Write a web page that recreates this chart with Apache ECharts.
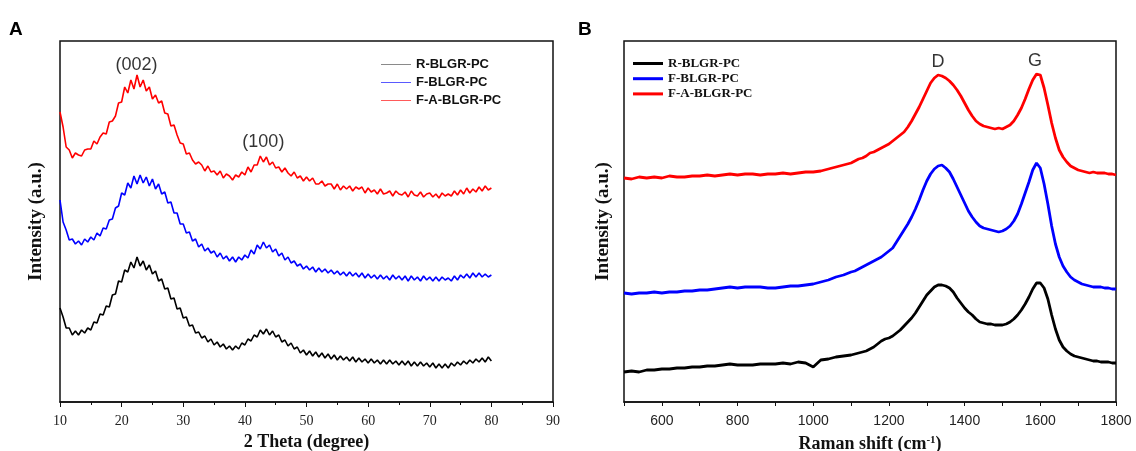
<!DOCTYPE html>
<html><head><meta charset="utf-8">
<script src="https://cdn.jsdelivr.net/npm/echarts@6/dist/echarts.min.js"></script>
<style>html,body{margin:0;padding:0;background:#fff}#c{width:1136px;height:451px}</style>
</head><body><div id="c"></div>
<script>
// ---------- Panel A: XRD ----------
const xrdTheta = [
 10,10.5,11,11.5,12,12.5,13,13.5,14,14.5,15,15.5,16,16.5,17,17.5,18,18.5,19,19.5,
 20,20.5,21,21.5,22,22.5,23,23.5,24,24.5,25,25.5,26,26.5,27,27.5,28,28.5,29,29.5,
 30,30.5,31,31.5,32,32.5,33,33.5,34,34.5,35,35.5,36,36.5,37,37.5,38,38.5,39,39.5,
 40,40.5,41,41.5,42,42.5,43,43.5,44,44.5,45,45.5,46,46.5,47,47.5,48,48.5,49,49.5,
 50,50.5,51,51.5,52,52.5,53,53.5,54,54.5,55,55.5,56,56.5,57,57.5,58,58.5,59,59.5,
 60,60.5,61,61.5,62,62.5,63,63.5,64,64.5,65,65.5,66,66.5,67,67.5,68,68.5,69,69.5,
 70,70.5,71,71.5,72,72.5,73,73.5,74,74.5,75,75.5,76,76.5,77,77.5,78,78.5,79,79.5,
 80];
const xrdR = [
 94,85,74,74,67,71,67,72,69,74,72,80,79,88,87,96,95,107,108,121,
 120,132,130,140,134,145,136,141,132,137,128,131,121,123,113,114,103,104,93,94,
 84,85,76,77,69,70,64,66,60,63,57,60,55,58,53,56,52,56,53,59,
 57,63,61,67,65,72,68,73,67,71,65,67,60,62,56,59,53,55,49,52,
 47,51,46,50,45,49,44,48,43,47,42,46,42,45,41,45,40,44,40,43,
 39,43,39,42,38,42,38,42,38,41,37,41,37,41,36,40,36,40,36,39,
 35,39,34,38,34,38,34,39,36,40,37,41,38,42,39,43,40,44,40,45,
 41];
const xrdF = [
 202,180,172,162,163,158,161,157,163,160,165,162,169,166,174,173,182,183,194,196,
 209,207,219,214,226,218,227,219,225,216,223,213,218,208,210,199,200,189,189,178,
 178,169,170,161,163,155,158,151,154,149,151,145,149,143,146,141,145,140,145,142,
 147,144,152,148,157,153,160,154,157,150,153,146,149,142,145,139,141,136,138,133,
 136,132,135,130,134,130,133,129,132,128,131,127,130,126,130,126,129,125,129,124,
 128,124,127,123,127,123,126,122,127,123,126,122,126,121,126,122,125,121,126,122,
 125,121,125,121,125,122,124,121,126,122,127,124,128,124,129,125,129,125,128,125,
 127];
const xrdFA = [
 290,275,255,252,244,249,247,246,252,253,253,261,258,265,269,268,280,281,286,299,
 300,315,309,322,313,327,315,322,311,315,303,307,299,301,289,288,276,277,267,259,
 258,248,249,242,238,240,237,231,236,230,231,227,231,224,228,226,222,227,225,230,
 227,235,230,237,237,246,240,245,237,240,234,235,230,234,229,226,230,224,226,221,
 225,221,224,218,218,221,216,218,218,213,218,212,216,213,216,211,215,213,215,209,
 214,210,212,208,213,208,209,211,206,211,208,207,210,205,211,207,206,210,205,208,
 209,205,208,204,209,206,208,206,211,207,212,208,214,209,213,210,215,211,216,212,
 214];
const xrdPeakLabels = ['(002)', '(100)'];
const xrdPeakTheta = [22.4, 43.0];
const xrdPeakHeight = [337, 260];

// ---------- Panel B: Raman ----------
const ramanShift = [
 500,520,540,560,580,600,620,640,660,680,700,720,740,760,780,800,820,840,860,880,
 900,920,940,960,980,1000,1020,1040,1060,1080,
 1100,1110,1120,1130,1140,1150,1160,1170,1180,1190,
 1200,1210,1220,1230,1240,1250,1260,1270,1280,1290,
 1300,1310,1320,1330,1340,1350,1360,1370,1380,1390,
 1400,1410,1420,1430,1440,1450,1460,1470,1480,1490,
 1500,1510,1520,1530,1540,1550,1560,1570,1580,1590,
 1600,1610,1620,1630,1640,1650,1660,1670,1680,1690,
 1700,1710,1720,1730,1740,1750,1760,1770,1780,1790,
 1800];
const ramanR = [
 30,31,30,32,32,33,33,34,34,35,35,36,36,37,38,37,37,37,38,38,
 38,39,38,40,39,35,42,43,45,46,
 47,48,49,50,51,53,55,58,61,63,
 64,66,69,72,76,80,84,89,95,101,
 107,111,115,117,117,116,114,110,104,99,
 94,90,87,83,80,79,78,78,77,77,
 77,78,80,83,87,92,98,105,113,119,
 119,114,103,87,73,62,55,51,48,46,
 45,44,43,42,41,41,40,40,40,39,
 39];
const ramanF = [
 109,108,109,109,110,109,110,110,111,111,112,112,113,114,115,114,115,115,115,114,
 114,115,116,116,117,118,120,122,125,127,
 130,131,133,135,137,139,141,143,145,148,
 151,154,160,166,172,178,185,193,202,212,
 221,228,233,236,237,234,230,223,215,207,
 199,191,185,180,176,174,173,172,171,170,
 171,173,176,181,188,198,209,220,232,239,
 234,218,198,176,158,145,136,130,125,122,
 120,118,117,116,115,115,115,114,114,113,
 113];
const ramanFA = [
 224,223,225,224,225,224,226,225,225,226,226,227,226,227,228,227,228,228,227,228,
 228,229,228,229,230,230,231,233,235,237,
 239,241,243,244,246,249,250,252,254,256,
 258,261,264,267,270,275,281,288,295,303,
 311,319,324,327,326,324,321,317,312,306,
 299,292,286,281,278,276,275,274,273,274,
 273,275,277,281,287,294,303,313,322,328,
 327,314,297,279,264,252,245,240,236,234,
 232,231,230,229,230,229,229,229,228,228,
 227];
const ramanBandLabels = ['D', 'G'];
const ramanBandShift = [1330, 1586];
const ramanBandHeight = [340, 341];

const seriesNames = ['R-BLGR-PC', 'F-BLGR-PC', 'F-A-BLGR-PC'];
const xrdTicks = [10, 20, 30, 40, 50, 60, 70, 80, 90];
const ramanTickLabels = [600, 800, 1000, 1200, 1400, 1600, 1800];

// ---------- chart ----------
const serif = '"Liberation Serif","Times New Roman",serif';
const sans = '"Liberation Sans",Arial,sans-serif';
const colors = ['#000000', '#0000ff', '#ff0000'];
const legendAColors = ['#8a8a8a', '#5a5aff', '#ff5a5a'];
const pairs = (xs, ys) => xs.map((x, i) => [x, ys[i]]);

const xrdSets = [xrdR, xrdF, xrdFA];
const ramanSets = [ramanR, ramanF, ramanFA];

const series = [];
xrdSets.forEach((ys, i) => series.push({
  name: seriesNames[i], type: 'line', xAxisIndex: 0, yAxisIndex: 0,
  data: pairs(xrdTheta, ys), symbol: 'none', showSymbol: false,
  lineStyle: { color: colors[i], width: 1.6 }, itemStyle: { color: colors[i] },
  silent: true
}));
ramanSets.forEach((ys, i) => series.push({
  name: seriesNames[i], type: 'line', xAxisIndex: 1, yAxisIndex: 1,
  data: pairs(ramanShift, ys), symbol: 'none', showSymbol: false,
  lineStyle: { color: colors[i], width: 2.8 }, itemStyle: { color: colors[i] },
  silent: true
}));
const labelSeries = (xIdx, names, xs, ys) => ({
  type: 'scatter', xAxisIndex: xIdx, yAxisIndex: xIdx, silent: true,
  symbolSize: 1, itemStyle: { color: 'rgba(0,0,0,0)' },
  data: names.map((n, i) => ({ name: n, value: [xs[i], ys[i]] })),
  label: { show: true, position: 'inside', formatter: '{b}',
           fontFamily: sans, fontSize: 18, color: '#000' }
});
series.push(labelSeries(0, xrdPeakLabels, xrdPeakTheta, xrdPeakHeight));
series.push(labelSeries(1, ramanBandLabels, ramanBandShift, ramanBandHeight));

const yAxisCommon = (gi, gap) => ({
  gridIndex: gi, type: 'value', min: 0, max: 361,
  axisLine: { show: false }, axisTick: { show: false }, axisLabel: { show: false },
  splitLine: { show: false },
  name: 'Intensity (a.u.)', nameLocation: 'middle', nameGap: gap,
  nameTextStyle: { fontFamily: serif, fontWeight: 'bold', fontSize: 19, color: '#111' }
});

const option = {
  animation: false,
  backgroundColor: '#fff',
  graphic: [
    { type: 'text', left: 9, top: 20, style: { text: 'A', font: 'bold 19px ' + sans, fill: '#000' } },
    { type: 'text', left: 578, top: 20, style: { text: 'B', font: 'bold 19px ' + sans, fill: '#000' } }
  ],
  grid: [
    { left: 60, top: 41, width: 493, height: 361, show: true, borderColor: '#111', borderWidth: 1.5,
      backgroundColor: 'transparent', containLabel: false, outerBoundsMode: 'none' },
    { left: 624, top: 41, width: 492, height: 361, show: true, borderColor: '#111', borderWidth: 1.5,
      backgroundColor: 'transparent', containLabel: false, outerBoundsMode: 'none' }
  ],
  xAxis: [
    { gridIndex: 0, type: 'value', min: xrdTicks[0], max: xrdTicks[xrdTicks.length - 1], interval: 10,
      axisLine: { lineStyle: { color: '#111', width: 1.5 } },
      axisTick: { length: 5, lineStyle: { color: '#111', width: 1 } },
      minorTick: { show: true, splitNumber: 2, length: 3, lineStyle: { color: '#111', width: 1 } },
      splitLine: { show: false }, minorSplitLine: { show: false },
      axisLabel: { fontFamily: serif, fontSize: 14, color: '#222', margin: 12 },
      name: '2 Theta (degree)', nameLocation: 'middle', nameGap: 31,
      nameTextStyle: { fontFamily: serif, fontWeight: 'bold', fontSize: 18, color: '#111' } },
    { gridIndex: 1, type: 'value', min: 500, max: 1800, interval: 100,
      axisLine: { lineStyle: { color: '#111', width: 1.5 } },
      axisTick: { length: 4, lineStyle: { color: '#111', width: 1 } },
      splitLine: { show: false },
      axisLabel: { fontFamily: sans, fontSize: 14, color: '#222', margin: 12,
        formatter: v => ramanTickLabels.indexOf(v) >= 0 ? String(v) : '' },
      name: '{a|Raman shift (cm}{s|-1}{a|)}', nameLocation: 'middle', nameGap: 33,
      nameTextStyle: { rich: {
        a: { fontFamily: serif, fontWeight: 'bold', fontSize: 18, color: '#111' },
        s: { fontFamily: serif, fontWeight: 'bold', fontSize: 11, color: '#111', verticalAlign: 'top', padding: [0, 0, 8, 0] }
      } } }
  ],
  yAxis: [yAxisCommon(0, 14), yAxisCommon(1, 11)],
  legend: [
    { left: 381, top: 58, orient: 'vertical', padding: 0, itemWidth: 30, itemHeight: 1, itemGap: 5,
      icon: 'rect', selectedMode: false,
      textStyle: { fontFamily: sans, fontWeight: 'bold', fontSize: 13, color: '#111' },
      data: seriesNames.map((n, i) => ({ name: n, itemStyle: { color: legendAColors[i] } })) },
    { left: 633, top: 57, orient: 'vertical', padding: 0, itemWidth: 30, itemHeight: 3, itemGap: 2.2,
      icon: 'rect', selectedMode: false,
      textStyle: { fontFamily: serif, fontWeight: 'bold', fontSize: 13, color: '#111' },
      data: seriesNames.map((n, i) => ({ name: n, itemStyle: { color: colors[i] } })) }
  ],
  series: series
};
const chart = echarts.init(document.getElementById('c'), null, { renderer: 'canvas' });
chart.setOption(option);
</script>
</body></html>
